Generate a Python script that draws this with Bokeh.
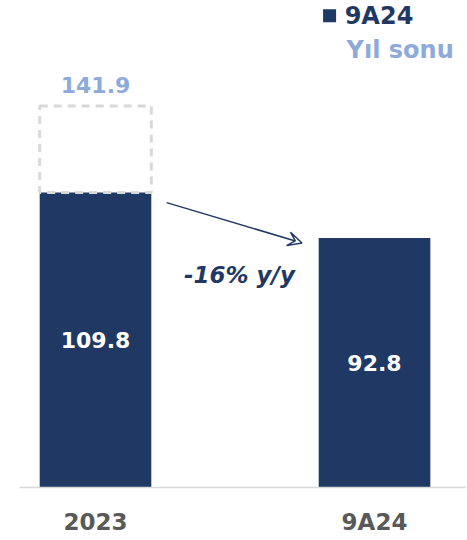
from bokeh.plotting import figure
from bokeh.models import Range1d, FixedTicker, Arrow, VeeHead, ColumnDataSource
from bokeh.embed import file_html
from bokeh.resources import INLINE
from bokeh.core.properties import value

categories = ["2023", "9A24"]
values = [109.8, 92.8]
year_end_2023 = 141.9
change_label = "-16% y/y"
legend_labels = ["9A24", "Yıl sonu"]

NAVY = "#1f3864"
LIGHT = "#8eaadb"
GREY = "#595959"
FONT = "DejaVu Sans"

xs = list(range(len(categories)))
W = 0.40

p = figure(width=466, height=539, output_backend="svg", toolbar_location=None,
           x_range=Range1d(-0.2724, 1.3297), y_range=Range1d(0, 181.2),
           min_border_left=19, min_border_right=0, min_border_top=0, min_border_bottom=52)
p.outline_line_color = None
p.grid.visible = False
p.yaxis.visible = False
p.background_fill_color = None
p.border_fill_color = None

src = ColumnDataSource(dict(x=xs, top=values, mid=[v / 2 for v in values],
                            lab=[f"{v:.1f}" for v in values]))
p.vbar(x="x", top="top", width=W, source=src, fill_color=NAVY, line_color=None)

# dashed year-end box for 2023
p.vbar(x=[xs[0]], bottom=[values[0]], top=[year_end_2023], width=W,
       fill_color=None, line_color="#d9d9d9", line_width=3, line_dash="8 6")

p.text(x="x", y="mid", text="lab", source=src, text_color="white",
       text_font=value(FONT), text_font_style="bold", text_font_size="22px",
       text_align="center", text_baseline="middle")

p.text(x=[xs[0]], y=[year_end_2023], text=[f"{year_end_2023:.1f}"], text_color=LIGHT,
       text_font=value(FONT), text_font_style="bold", text_font_size="22px",
       text_align="center", text_baseline="bottom", y_offset=-13)

# arrow between bars
p.add_layout(Arrow(end=VeeHead(size=14, line_color=NAVY, line_width=1.5, fill_color=None),
                   x_start=xs[0] + W / 2 + 0.055, y_start=values[0] - 3.8,
                   x_end=xs[1] - W / 2 - 0.06, y_end=values[1] - 1.8,
                   line_color=NAVY, line_width=1.5))
p.text(x=[(xs[0] + xs[1]) / 2 + 0.016], y=[79], text=[change_label], text_color=NAVY,
       text_font=value(FONT), text_font_style="bold italic", text_font_size="23px",
       text_align="center", text_baseline="middle")

# legend
p.scatter(x=[0.839], y=[175.5], marker="square", size=13, fill_color=NAVY, line_color=None)
p.text(x=[0.893], y=[175.4], text=[legend_labels[0]], text_color=NAVY,
       text_font=value(FONT), text_font_style="bold", text_font_size="24px",
       text_align="left", text_baseline="middle")
p.text(x=[0.9], y=[162.6], text=[legend_labels[1]], text_color=LIGHT,
       text_font=value(FONT), text_font_style="bold", text_font_size="24px",
       text_align="left", text_baseline="middle")

ax = p.xaxis[0]
ax.ticker = FixedTicker(ticks=xs)
ax.major_label_overrides = {i: c for i, c in zip(xs, categories)}
ax.axis_line_color = "#d9d9d9"
ax.axis_line_width = 1.5
ax.major_tick_line_color = None
ax.minor_tick_line_color = None
ax.major_label_text_font = FONT
ax.major_label_text_font_style = "bold"
ax.major_label_text_font_size = "23px"
ax.major_label_text_color = GREY
ax.major_label_standoff = 15

open("out.html", "w").write(file_html(p, INLINE))
